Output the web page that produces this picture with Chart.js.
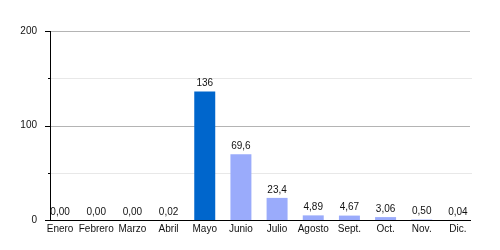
<!DOCTYPE html>
<html><head><meta charset="utf-8">
<script src="https://cdn.jsdelivr.net/npm/chart.js@4/dist/chart.umd.min.js"></script>
<style>html,body{margin:0;padding:0;background:#fff}#wrap{width:500px;height:250px}</style>
</head><body><div id="wrap"><canvas id="c" width="500" height="250"></canvas></div>
<script>
const categories = ["Enero","Febrero","Marzo","Abril","Mayo","Junio","Julio","Agosto","Sept.","Oct.","Nov.","Dic."];
const values = [0, 0, 0, 0.02, 136, 69.6, 23.4, 4.89, 4.67, 3.06, 0.50, 0.04];
const valueLabels = ["0,00","0,00","0,00","0,02","136","69,6","23,4","4,89","4,67","3,06","0,50","0,04"];
const yTicks = [0, 100, 200];
const highlightIndex = 4;

const FONT = "'Liberation Sans', Arial, Helvetica, sans-serif";
const AXIS_X = 50, GRID_RIGHT = 471;

const backLayer = {
  id: 'backLayer',
  beforeDatasetsDraw(chart) {
    const ctx = chart.ctx, y = chart.scales.y;
    ctx.save();
    ctx.lineWidth = 1;
    for (let v = 50; v <= 200; v += 50) {
      const py = Math.round(y.getPixelForValue(v)) + 0.5;
      const major = v % 100 === 0;
      ctx.strokeStyle = major ? '#b4b4b4' : '#e8e8e8';
      ctx.beginPath(); ctx.moveTo(AXIS_X, py); ctx.lineTo(major ? GRID_RIGHT - 1 : GRID_RIGHT + 1, py); ctx.stroke();
    }
    ctx.restore();
  },
  afterDatasetsDraw(chart) {
    const ctx = chart.ctx, y = chart.scales.y;
    ctx.save();
    ctx.strokeStyle = '#000'; ctx.lineWidth = 1;
    // y axis line
    const top = Math.round(y.getPixelForValue(200));
    const bot = Math.round(y.getPixelForValue(0));
    ctx.beginPath(); ctx.moveTo(AXIS_X + 0.5, top); ctx.lineTo(AXIS_X + 0.5, bot + 1); ctx.stroke();
    // x axis line
    ctx.beginPath(); ctx.moveTo(AXIS_X, bot + 0.5); ctx.lineTo(GRID_RIGHT, bot + 0.5); ctx.stroke();
    // tick marks
    for (let v = 0; v <= 200; v += 50) {
      const py = Math.round(y.getPixelForValue(v)) + 0.5;
      const len = (v % 100 === 0) ? 5 : 2;
      ctx.beginPath(); ctx.moveTo(AXIS_X - len, py); ctx.lineTo(AXIS_X, py); ctx.stroke();
    }
    // data labels
    ctx.fillStyle = '#111';
    ctx.font = '10px ' + FONT;
    ctx.textAlign = 'center'; ctx.textBaseline = 'bottom';
    chart.getDatasetMeta(0).data.forEach((bar, i) => {
      ctx.fillText(valueLabels[i], bar.x, bar.y - 3);
    });
    ctx.restore();
  }
};

new Chart(document.getElementById('c'), {
  type: 'bar',
  data: {
    labels: categories,
    datasets: [{
      data: values,
      backgroundColor: values.map((v, i) => i === highlightIndex ? '#0066CC' : '#9AABFB'),
      barPercentage: 0.58,
      categoryPercentage: 1.0,
      borderWidth: 0
    }]
  },
  options: {
    responsive: false,
    animation: false,
    devicePixelRatio: 1,
    layout: { padding: { top: 31, right: 24, left: 0, bottom: 0 } },
    plugins: { legend: { display: false }, tooltip: { enabled: false } },
    scales: {
      x: {
        grid: { display: false, drawTicks: false },
        border: { display: false },
        ticks: { font: { size: 10, family: FONT }, color: '#111', padding: 3, maxRotation: 0, autoSkip: false },
        afterFit(s) { s.height = 30; }
      },
      y: {
        min: 0, max: 200,
        grid: { display: false, drawTicks: false },
        border: { display: false },
        ticks: {
          stepSize: 50,
          padding: 5,
          font: { size: 10, family: FONT }, color: '#111',
          callback: v => yTicks.includes(v) ? String(v) : ''
        },
        afterFit(s) { s.width = 42; }
      }
    }
  },
  plugins: [backLayer]
});
</script></body></html>
